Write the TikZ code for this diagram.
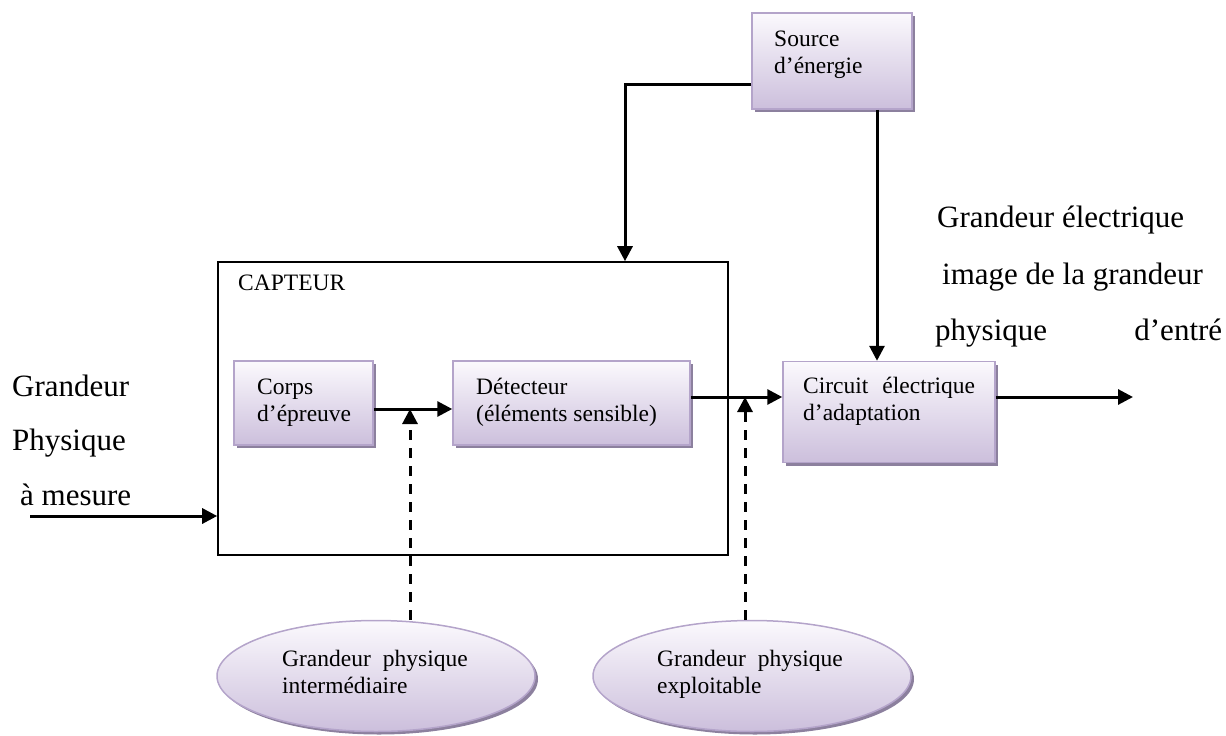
\documentclass[tikz,border=0pt]{standalone}
\usepackage{fontspec}
\setmainfont{Liberation Serif}
\usetikzlibrary{arrows.meta,shapes.geometric,shadows}
\definecolor{boxtop}{RGB}{251,249,253}
\definecolor{boxbot}{RGB}{204,191,220}
\definecolor{boxborder}{RGB}{180,164,202}
\definecolor{shadowc}{RGB}{140,128,158}
\begin{document}
\begin{tikzpicture}[x=1pt,y=-1pt,
  box/.style={rectangle, draw=boxborder, line width=1.5pt, top color=boxtop, bottom color=boxbot,
    drop shadow={shadow xshift=3pt, shadow yshift=-3pt, fill=shadowc, opacity=1}, inner sep=0pt},
  ell/.style={ellipse, draw=boxborder, line width=1.5pt, top color=boxtop, bottom color=boxbot,
    drop shadow={shadow xshift=3pt, shadow yshift=-3pt, fill=shadowc, opacity=1}, inner sep=0pt},
  btext/.style={inner sep=0pt, align=left, font=\fontsize{23.5}{26.5}\selectfont},
  etext/.style={inner sep=0pt, align=left, font=\fontsize{23.5}{27}\selectfont},
  bigtext/.style={inner sep=0pt, font=\fontsize{31}{36}\selectfont},
  arr/.style={line width=3pt, -{Triangle[length=15pt,width=15pt]}},
  dasharr/.style={arr, dash pattern=on 10pt off 8pt},
]
\useasboundingbox (0,0) rectangle (1226,736);

% boxes (base anchor of a two-line text = baseline of its last line)
\node[box, minimum width=160pt, minimum height=96pt] (src) at (832,61) {};
\node[btext, anchor=base west] (srct) at (774,73) {Source\\d’énergie};

\node[draw, line width=1.6pt, minimum width=510pt, minimum height=293pt, inner sep=0pt] (capt) at (473,408.5) {};
\node[btext, anchor=base west] (captt) at (238,290) {CAPTEUR};

\node[box, minimum width=139pt, minimum height=84pt] (corps) at (303.5,403) {};
\node[btext, anchor=base west] (corpst) at (257,421) {Corps\\d’épreuve};

\node[box, minimum width=237pt, minimum height=84pt] (det) at (571.5,403) {};
\node[btext, anchor=base west] (dett) at (476,421) {Détecteur\\(éléments sensible)};

\node[box, minimum width=212pt, minimum height=101pt] (circ) at (889,412) {};
\node[btext, anchor=base west] (circt) at (803,420) {Circuit\hspace{14pt}électrique\\d’adaptation};

% ellipses
\node[ell, minimum width=318pt, minimum height=111pt] (e1) at (376,676) {};
\node[etext, anchor=base west] (e1t) at (282,693) {Grandeur\hspace{12pt}physique\\intermédiaire};
\node[ell, minimum width=318pt, minimum height=111pt] (e2) at (752,676) {};
\node[etext, anchor=base west] (e2t) at (657,693) {Grandeur\hspace{12pt}physique\\exploitable};

% free texts
\node[bigtext, anchor=base west] (gl1) at (12,396) {Grandeur};
\node[bigtext, anchor=base west] (gl2) at (12,450) {Physique};
\node[bigtext, anchor=base west] (gl3) at (20,505) {à mesure};
\node[bigtext, anchor=base west] (gr1) at (937,227) {Grandeur électrique};
\node[bigtext, anchor=base west] (gr2) at (942,284) {image de la grandeur};
\node[bigtext, anchor=base west] (gr3) at (935,340) {\hbox to 287pt{physique\hfill d’entré}};

% connectors
\coordinate (inbeg) at (30,516);
\coordinate (outend) at (1133,397);
\coordinate (j1) at (410,409);
\coordinate (j2) at (745,397);
\draw[arr] (src.west |- 0,84) -| (capt.north -| 625,0);
\draw[arr] (src.south -| 877,0) -- (circ.north -| 877,0);
\draw[arr] (corps.east |- 0,409) -- (det.west |- 0,409);
\draw[arr] (det.east |- 0,397) -- (circ.west |- 0,397);
\draw[arr] (circ.east |- 0,397) -- (outend);
\draw[arr] (inbeg) -- (capt.west |- inbeg);
\draw[dasharr] (e1.north -| j1) -- (j1);
\draw[dasharr] (e2.north -| j2) -- (j2);
\end{tikzpicture}
\end{document}
